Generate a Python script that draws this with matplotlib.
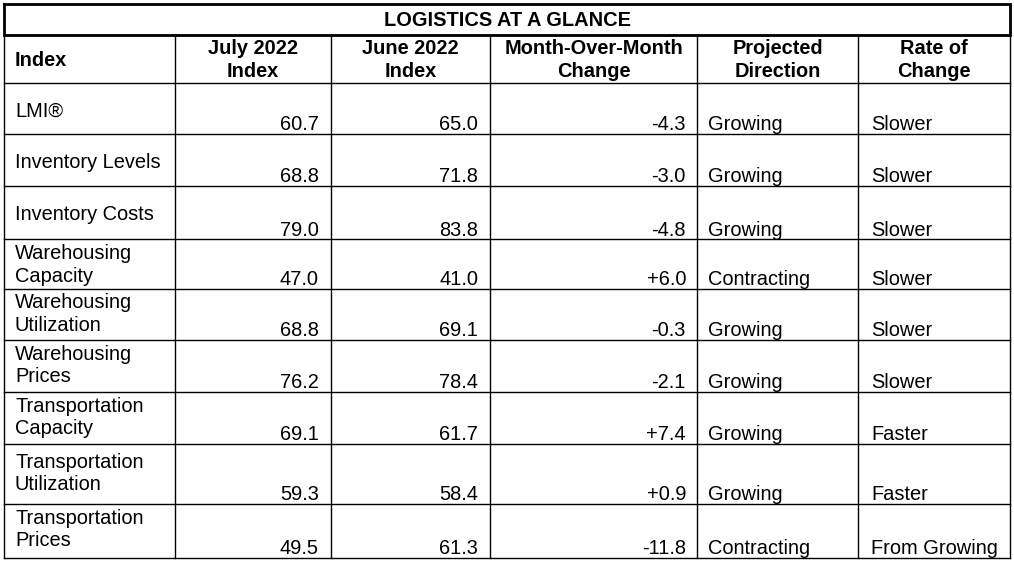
import matplotlib
matplotlib.use('Agg')
import matplotlib.pyplot as plt

plt.rcParams['font.family'] = ['Liberation Sans', 'DejaVu Sans']

# table contents
title = "LOGISTICS AT A GLANCE"
headers = ["Index", "July 2022\nIndex", "June 2022\nIndex",
           "Month-Over-Month\nChange", "Projected\nDirection", "Rate of\nChange"]
indexes = ["LMI®", "Inventory Levels", "Inventory Costs", "Warehousing\nCapacity",
           "Warehousing\nUtilization", "Warehousing\nPrices", "Transportation\nCapacity",
           "Transportation\nUtilization", "Transportation\nPrices"]
july = [60.7, 68.8, 79.0, 47.0, 68.8, 76.2, 69.1, 59.3, 49.5]
june = [65.0, 71.8, 83.8, 41.0, 69.1, 78.4, 61.7, 58.4, 61.3]
change = [-4.3, -3.0, -4.8, 6.0, -0.3, -2.1, 7.4, 0.9, -11.8]
direction = ["Growing", "Growing", "Growing", "Contracting", "Growing", "Growing",
             "Growing", "Growing", "Contracting"]
rate = ["Slower", "Slower", "Slower", "Slower", "Slower", "Slower",
        "Faster", "Faster", "From Growing"]

# layout in pixels
W, H = 1014, 563
col_x = [4, 175, 331, 490, 697, 858, 1010]
row_y = [35, 83, 133.5, 186, 239, 288.5, 340, 391.5, 443.5, 504, 558]
top_y = 4
fs = 14.4

fig = plt.figure(figsize=(W / 100, H / 100), dpi=100)
ax = fig.add_axes([0, 0, 1, 1])
ax.set_xlim(0, W)
ax.set_ylim(H, 0)
ax.axis('off')

lw = 1.0
# grid lines
for y in row_y:
    ax.plot([col_x[0], col_x[-1]], [y, y], color='black', lw=lw)
for x in col_x:
    ax.plot([x, x], [row_y[0], row_y[-1]], color='black', lw=lw)
# title box, heavier
ax.plot([col_x[0], col_x[-1], col_x[-1], col_x[0], col_x[0]],
        [top_y, top_y, row_y[0], row_y[0], top_y], color='black', lw=2.0,
        solid_joinstyle='miter')

ax.text((col_x[0] + col_x[-1]) / 2, (top_y + row_y[0]) / 2 + 1, title,
        ha='center', va='center', fontsize=fs, fontweight='bold')

hy = (row_y[0] + row_y[1]) / 2 + 1
ax.text(col_x[0] + 11, hy, headers[0], ha='left', va='center',
        fontsize=fs, fontweight='bold')
for j in range(1, 6):
    ax.text((col_x[j] + col_x[j + 1]) / 2, hy, headers[j], ha='center', va='center',
            fontsize=fs, fontweight='bold', linespacing=1.22)

for i in range(len(indexes)):
    top, bot = row_y[i + 1], row_y[i + 2]
    lines = indexes[i].split("\n")
    if len(lines) == 1:
        ax.text(col_x[0] + 11, top + 34, lines[0], ha='left', va='baseline', fontsize=fs)
    else:
        off = 24 if bot - top > 55 else 20
        ax.text(col_x[0] + 11, top + off, lines[0], ha='left', va='baseline', fontsize=fs)
        ax.text(col_x[0] + 11, top + off + 22.5, lines[1], ha='left', va='baseline', fontsize=fs)
    base = bot - 3.5
    ax.text(col_x[2] - 12, base, f"{july[i]:.1f}", ha='right', va='baseline', fontsize=fs)
    ax.text(col_x[3] - 12, base, f"{june[i]:.1f}", ha='right', va='baseline', fontsize=fs)
    ax.text(col_x[4] - 11, base, f"{change[i]:+.1f}", ha='right', va='baseline', fontsize=fs)
    ax.text(col_x[4] + 11, base, direction[i], ha='left', va='baseline', fontsize=fs)
    ax.text(col_x[5] + 13, base, rate[i], ha='left', va='baseline', fontsize=fs)

fig.savefig('out.png', dpi=100, facecolor='white')
